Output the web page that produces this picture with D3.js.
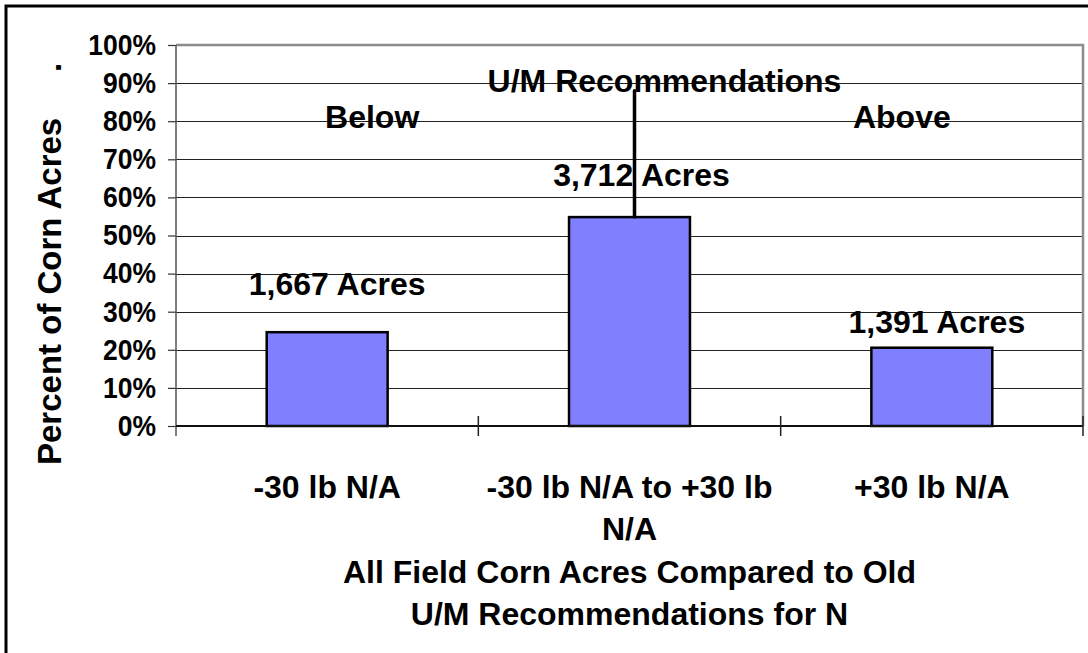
<!DOCTYPE html>
<html>
<head>
<meta charset="utf-8">
<script src="https://cdn.jsdelivr.net/npm/d3@7"></script>
<style>
  html, body { margin: 0; padding: 0; background: #fff; }
  svg { display: block; }
  text { font-family: "Liberation Sans", Arial, sans-serif; font-weight: bold; fill: #000; }
</style>
</head>
<body>
<svg id="chart" width="1088" height="653"></svg>
<script>
// Acreage by nitrogen rate relative to the old U/M recommendation
const categories = ["-30 lb N/A", "-30 lb N/A to +30 lb N/A", "+30 lb N/A"];
const acres = [1667, 3712, 1391];
const barLabels = ["1,667 Acres", "3,712 Acres", "1,391 Acres"];
const yTicks = [0, 0.1, 0.2, 0.3, 0.4, 0.5, 0.6, 0.7, 0.8, 0.9, 1.0];
const yTitle = "Percent of Corn Acres     .";
const xTitleLines = ["All Field Corn Acres Compared to Old", "U/M Recommendations for N"];
const zoneLabels = ["Below", "U/M Recommendations", "Above"];

const total = d3.sum(acres);
const share = acres.map(a => a / total);

const svg = d3.select("#chart");
const W = 1088, H = 653;
const bigFont = 32;

// outer frame
svg.append("rect")
  .attr("x", 6).attr("y", 6).attr("width", W + 20).attr("height", H + 20)
  .attr("fill", "none").attr("stroke", "#000").attr("stroke-width", 3);

const plot = { left: 176, right: 1083, top: 45, bottom: 426 };

const x = d3.scaleBand()
  .domain(categories)
  .range([plot.left, plot.right])
  .paddingInner(0.6)
  .paddingOuter(0.3);

const y = d3.scaleLinear().domain([0, 1]).range([plot.bottom, plot.top]);

// horizontal gridlines
svg.append("g").selectAll("line")
  .data(yTicks.filter(t => t > 0 && t < 1))
  .join("line")
  .attr("x1", plot.left).attr("x2", plot.right)
  .attr("y1", d => Math.round(y(d)) + 0.5).attr("y2", d => Math.round(y(d)) + 0.5)
  .attr("stroke", "#222").attr("stroke-width", 1.2);

// plot area border (top and right)
svg.append("path")
  .attr("d", `M${plot.left},${y(1)}H${plot.right}V${plot.bottom}`)
  .attr("fill", "none").attr("stroke", "#8c8c8c").attr("stroke-width", 2.5);

// bars
const cx = d => x(d) + x.bandwidth() / 2;
svg.append("g").selectAll("rect")
  .data(categories)
  .join("rect")
  .attr("x", d => x(d))
  .attr("y", (d, i) => y(share[i]))
  .attr("width", x.bandwidth())
  .attr("height", (d, i) => y(0) - y(share[i]))
  .attr("fill", "#8080ff")
  .attr("stroke", "#000")
  .attr("stroke-width", 2.5);

// y axis
const yAxis = svg.append("g")
  .attr("transform", `translate(${plot.left},0)`)
  .call(d3.axisLeft(y).tickValues(yTicks).tickFormat(d3.format(".0%")).tickSize(8).tickPadding(12));
yAxis.select(".domain").remove();
yAxis.selectAll(".tick line").attr("stroke", "#333").attr("stroke-width", 1.2);
yAxis.selectAll("text")
  .attr("font-size", 26.5)
  .attr("font-family", "'Liberation Sans', Arial, sans-serif")
  .attr("font-weight", "bold")
  .attr("fill", "#000")
  .attr("transform", "scale(1,1.1)");
svg.append("line")
  .attr("x1", plot.left).attr("x2", plot.left)
  .attr("y1", y(1)).attr("y2", plot.bottom + 10)
  .attr("stroke", "#555").attr("stroke-width", 1.5);

// x axis line and category separators
svg.append("line")
  .attr("x1", plot.left).attr("x2", plot.right)
  .attr("y1", plot.bottom).attr("y2", plot.bottom)
  .attr("stroke", "#111").attr("stroke-width", 2);
const bounds = d3.range(1, categories.length + 1).map(i => plot.left + x.step() * i);
svg.append("g").selectAll("line")
  .data(bounds)
  .join("line")
  .attr("x1", d => d).attr("x2", d => d)
  .attr("y1", plot.bottom - 10).attr("y2", plot.bottom + 10)
  .attr("stroke", "#222").attr("stroke-width", 1.5);

// category labels, wrapped to the category width
const catG = svg.append("g");
categories.forEach(c => {
  const t = catG.append("text")
    .attr("text-anchor", "middle")
    .attr("font-size", bigFont)
    .attr("x", cx(c));
  const words = c.split(" ");
  let lines = [], line = [];
  const probe = catG.append("text").attr("font-size", bigFont);
  words.forEach(w => {
    const trial = line.concat(w).join(" ");
    probe.text(trial);
    if (probe.node().getComputedTextLength() > x.step() && line.length) {
      lines.push(line.join(" "));
      line = [w];
    } else {
      line.push(w);
    }
  });
  lines.push(line.join(" "));
  probe.remove();
  lines.forEach((l, k) => {
    t.append("tspan").attr("x", cx(c)).attr("y", 498 + k * 42).text(l);
  });
});

// x axis title
svg.append("text")
  .attr("text-anchor", "middle")
  .attr("font-size", bigFont)
  .selectAll("tspan")
  .data(xTitleLines)
  .join("tspan")
  .attr("x", (plot.left + plot.right) / 2)
  .attr("y", (d, i) => 583 + i * 42)
  .text(d => d);

// y axis title
svg.append("text")
  .attr("transform", `translate(61,465) rotate(-90)`)
  .attr("text-anchor", "start")
  .attr("font-size", 33)
  .style("white-space", "pre")
  .text(yTitle);

// acreage labels above the bars
const labelShift = [{ dx: 10, dy: 37 }, { dx: 12, dy: 31 }, { dx: 5, dy: 15 }];
svg.append("g").selectAll("text")
  .data(categories)
  .join("text")
  .attr("text-anchor", "middle")
  .attr("font-size", bigFont)
  .attr("x", (d, i) => cx(d) + labelShift[i].dx)
  .attr("y", (d, i) => y(share[i]) - labelShift[i].dy)
  .text((d, i) => barLabels[i]);

// zone annotations and marker pointing at the recommended-rate bar
svg.append("line")
  .attr("x1", cx(categories[1]) + 5).attr("x2", cx(categories[1]) + 5)
  .attr("y1", y(0.88)).attr("y2", y(share[1]))
  .attr("stroke", "#000").attr("stroke-width", 3.5).attr("stroke-linecap", "round");

const zonePos = [
  { c: 0, dx: 45, v: 0.782 },
  { c: 1, dx: 35, v: 0.876 },
  { c: 2, dx: -30, v: 0.782 }
];
svg.append("g").selectAll("text")
  .data(zoneLabels)
  .join("text")
  .attr("text-anchor", "middle")
  .attr("font-size", bigFont)
  .attr("x", (d, i) => cx(categories[zonePos[i].c]) + zonePos[i].dx)
  .attr("y", (d, i) => y(zonePos[i].v))
  .text(d => d);
</script>
</body>
</html>
